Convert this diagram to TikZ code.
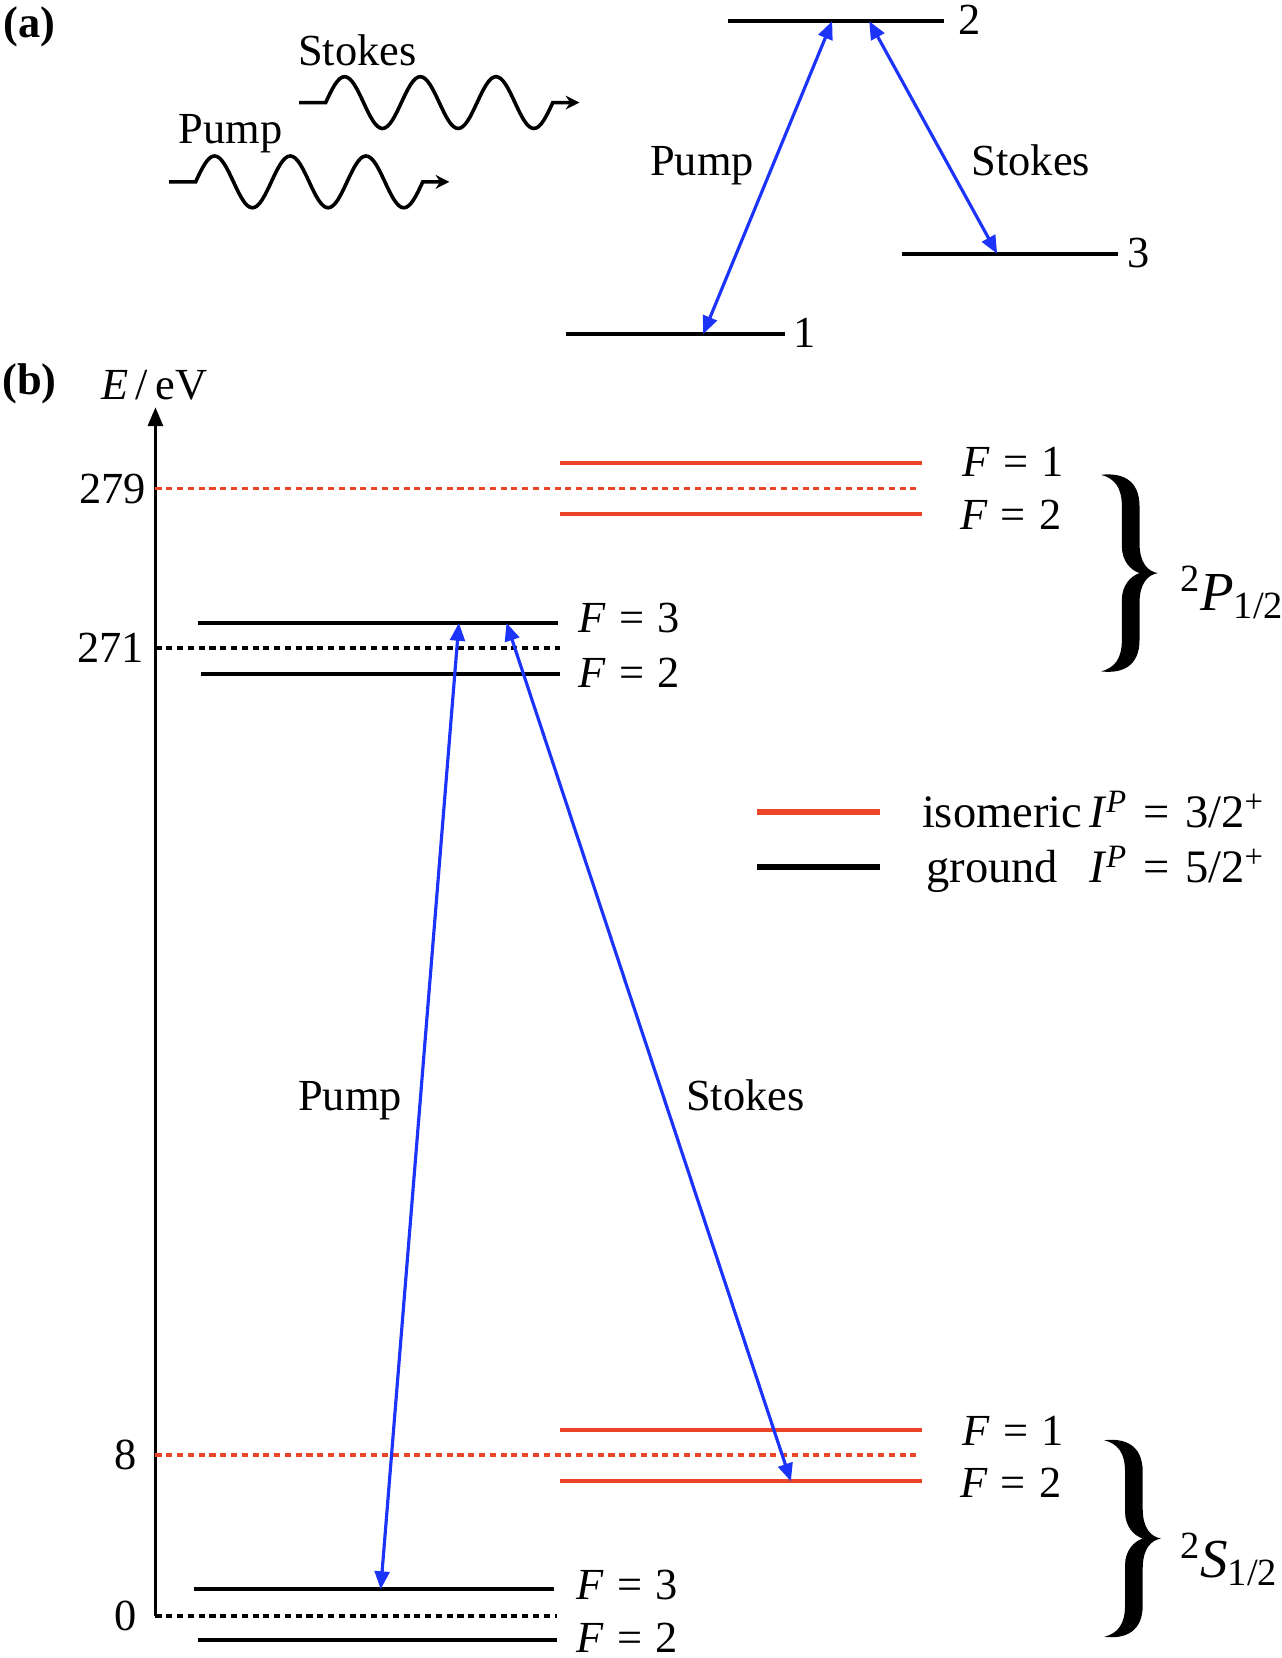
\documentclass[tikz,border=0pt]{standalone}
\usepackage{graphicx}
\usepackage{fontspec}
\setmainfont{Liberation Serif}
\usetikzlibrary{arrows.meta}
\definecolor{lvred}{RGB}{236,68,40}
\definecolor{arblue}{RGB}{28,52,250}
\newcommand{\Fl}[1]{\textit{F}\hspace{0.3em}=\hspace{0.3em}#1}
\newcommand{\IPl}[1]{\textit{I}\textsuperscript{\textit{P}}\hspace{0.34em}=\hspace{0.34em}#1\textsuperscript{+}}
\begin{document}
\begin{tikzpicture}[x=0.5pt,y=-0.5pt,
  every node/.style={inner sep=0pt,outer sep=0pt,font=\fontsize{21}{25}\selectfont},
  lvl/.style={line width=1.9pt},
  redl/.style={lvl,draw=lvred},
  dsh/.style={line width=1.8pt,dash pattern=on 2.9pt off 2.2pt},
  trans/.style={draw=arblue,line width=1.5pt,{Triangle[length=8.5pt,width=7pt]}-{Triangle[length=8.5pt,width=7pt]}},
  wave/.style={line width=1.7pt,-{Stealth[length=6.5pt,width=6.5pt]}},
  bigl/.style={font=\fontsize{26}{30}\selectfont},
  legl/.style={line width=2.8pt},
  legt/.style={font=\fontsize{22}{26}\selectfont},
  mybrace/.pic={
    \fill (-170,-295) .. controls (-110,-302) and (-55,-282) .. (-55,-200)
      -- (-55,-90) .. controls (-55,-30) and (-30,-5) .. (0,0)
      .. controls (-30,5) and (-55,30) .. (-55,90)
      -- (-55,200) .. controls (-55,282) and (-110,302) .. (-170,295)
      .. controls (-130,284) and (-108,258) .. (-108,200)
      -- (-108,80) .. controls (-108,35) and (-80,8) .. (-55,0)
      .. controls (-80,-8) and (-108,-35) .. (-108,-80)
      -- (-108,-200) .. controls (-108,-258) and (-130,-284) .. (-170,-295) -- cycle;
  },
]
\useasboundingbox (0,0) rectangle (1212,1568);

% ---------------- (a) ----------------
\node[anchor=base, font=\fontsize{21}{25}\selectfont\bfseries] (la) at (28,35) {(a)};
\node[anchor=base] (tSa) at (338,62) {Stokes};
\node[anchor=base] (tPa) at (218,136) {Pump};

\coordinate (sw0) at (283,97);
\coordinate (sw1) at (548,97);
\draw[wave] (sw0) -- ++(25,0)
  sin ++(17.9,-24.5) cos ++(17.9,24.5) sin ++(17.9,24.5) cos ++(17.9,-24.5)
  sin ++(17.9,-24.5) cos ++(17.9,24.5) sin ++(17.9,24.5) cos ++(17.9,-24.5)
  sin ++(17.9,-24.5) cos ++(17.9,24.5) sin ++(17.9,24.5) cos ++(17.9,-24.5)
  -- (sw1);

\coordinate (pw0) at (160,172);
\coordinate (pw1) at (425,172);
\draw[wave] (pw0) -- ++(25,0)
  sin ++(17.9,-24.5) cos ++(17.9,24.5) sin ++(17.9,24.5) cos ++(17.9,-24.5)
  sin ++(17.9,-24.5) cos ++(17.9,24.5) sin ++(17.9,24.5) cos ++(17.9,-24.5)
  sin ++(17.9,-24.5) cos ++(17.9,24.5) sin ++(17.9,24.5) cos ++(17.9,-24.5)
  -- (pw1);

% levels (a)
\draw[lvl] (688,20) -- (893,20);
\node[anchor=base west] (n2) at (906,33) {2};
\draw[lvl] (853,240) -- (1057,240);
\node[anchor=base west] (n3) at (1066,253) {3};
\draw[lvl] (535,316) -- (742,316);
\node[anchor=base west] (n1) at (750,329) {1};

\coordinate (a1) at (665,316);
\coordinate (a2p) at (787,20);
\coordinate (a2s) at (822,20);
\coordinate (a3) at (943,240);
\draw[trans] (a1) -- (a2p);
\draw[trans] (a2s) -- (a3);
\node[anchor=base] (tPa2) at (664,166) {Pump};
\node[anchor=base] (tSa2) at (975,166) {Stokes};

% ---------------- (b) ----------------
\node[anchor=base, font=\fontsize{21}{25}\selectfont\bfseries] (lb) at (28,373) {(b)};
\node[anchor=base] (axl) at (146,378) {\textit{E}\,/\,eV};

\coordinate (ax0) at (147,1528);
\coordinate (ax1) at (147,385);
\draw[line width=1.7pt,-{Triangle[length=9pt,width=7pt]}] (ax0) -- (ax1);

% P_{1/2} isomeric (red)
\draw[redl] (530,438) -- (872,438);
\draw[redl] (530,486) -- (872,486);
\draw[dsh,draw=lvred] (147,462) -- (866,462);
\node[anchor=base east] (v279) at (138,476) {279};
\node[anchor=base west] (fP1) at (910,451) {\Fl{1}};
\node[anchor=base west] (fP2) at (908,501) {\Fl{2}};
\pic[scale=0.3151] (brP) at (1095,542) {mybrace};
\node[anchor=west,bigl] (tP) at (1116,560) {\textsuperscript{2}\textit{P}\textsubscript{1/2}};

% P_{1/2} ground (black)
\draw[lvl] (187,589) -- (528,589);
\draw[lvl] (190,637) -- (530,637);
\draw[dsh] (147,613) -- (530,613);
\node[anchor=base east] (v271) at (136,627) {271};
\node[anchor=base west] (fP3g) at (547,598) {\Fl{3}};
\node[anchor=base west] (fP2g) at (547,650) {\Fl{2}};

% legend
\draw[legl,draw=lvred] (716,768) -- (832,768);
\draw[legl] (716,820) -- (832,820);
\node[anchor=base west,legt] (lgi) at (872,783) {isomeric};
\node[anchor=base west,legt] (lgg) at (876,835) {ground};
\node[anchor=base west,legt] (lgi2) at (1030,783) {\IPl{3/2}};
\node[anchor=base west,legt] (lgg2) at (1030,835) {\IPl{5/2}};

% S_{1/2} isomeric (red)
\draw[redl] (530,1352) -- (872,1352);
\draw[redl] (530,1401) -- (872,1401);
\draw[dsh,draw=lvred] (147,1376) -- (866,1376);
\node[anchor=base east] (v8) at (129,1390) {8};
\node[anchor=base west] (fS1) at (910,1367) {\Fl{1}};
\node[anchor=base west] (fS2) at (908,1416) {\Fl{2}};
\pic[scale=0.3151] (brS) at (1098,1455) {mybrace};
\node[anchor=west,bigl] (tS) at (1116,1475) {\textsuperscript{2}\textit{S}\textsubscript{1/2}};

% S_{1/2} ground (black)
\draw[lvl] (183,1503) -- (524,1503);
\draw[dsh] (147,1528) -- (527,1528);
\draw[lvl] (187,1551) -- (527,1551);
\node[anchor=base east] (v0) at (129,1542) {0};
\node[anchor=base west] (fS3g) at (545,1513) {\Fl{3}};
\node[anchor=base west] (fS2g) at (545,1563) {\Fl{2}};

% transitions (b)
\coordinate (bP0) at (360,1503);
\coordinate (bP1) at (434,589);
\coordinate (bS1) at (479,589);
\coordinate (bS0) at (748,1401);
\draw[trans] (bP0) -- (bP1);
\draw[trans] (bS1) -- (bS0);
\node[anchor=base] (tPb) at (331,1050) {Pump};
\node[anchor=base] (tSb) at (705,1050) {Stokes};
\end{tikzpicture}
\end{document}
